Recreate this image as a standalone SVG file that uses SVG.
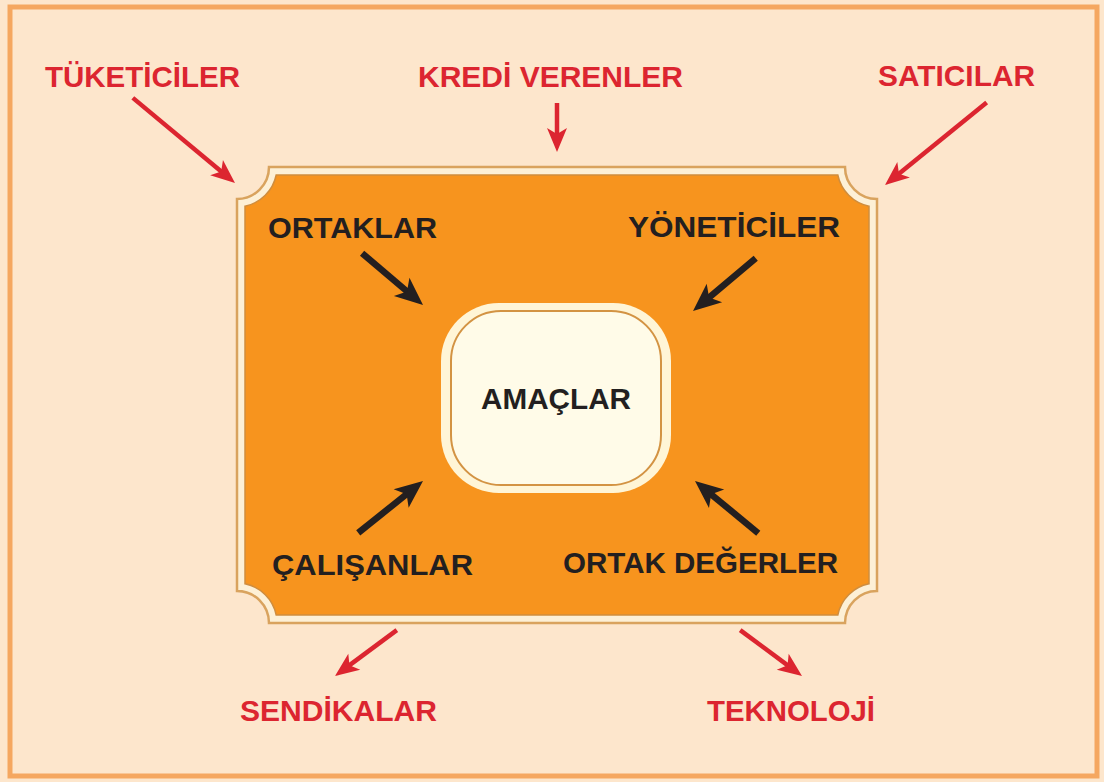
<svg xmlns="http://www.w3.org/2000/svg" width="1104" height="782" viewBox="0 0 1104 782">
<style>
.lbl{font-family:"Liberation Sans",Arial,sans-serif;font-weight:bold;font-size:30px}
.red{fill:#dc2530}
.blk{fill:#231f20}
.ra line{stroke:#dc2530;stroke-width:4.5}
.ra path{fill:#dc2530}
.ba line{stroke:#231f20;stroke-width:6.5}
.ba path{fill:#231f20}
</style>
<rect x="0" y="0" width="1104" height="782" fill="#fde6cc"/>
<rect x="10" y="7" width="1087" height="769" fill="#fde6cc" stroke="#f5a760" stroke-width="5"/>
<g id="frame">
<path d="M269,167 H845 A32 32 0 0 0 877,199 V591 A32 32 0 0 0 845,623 H269 A32 32 0 0 0 237,591 V199 A32 32 0 0 0 269,167 Z" fill="#fdf0d6" stroke="#d9a35e" stroke-width="2.5"/>
<path d="M276.2,175 H837.8 A40 40 0 0 0 869,206.2 V583.8 A40 40 0 0 0 837.8,615 H276.2 A40 40 0 0 0 245,583.8 V206.2 A40 40 0 0 0 276.2,175 Z" fill="#f7941e" stroke="#cf8d3e" stroke-width="1.5"/>
</g>
<g id="amaclar">
<rect x="441" y="303" width="230" height="190" rx="58" fill="#fff5d6"/>
<rect x="451" y="311" width="210" height="174" rx="50" fill="#fffbe8" stroke="#d39343" stroke-width="2"/>
<text class="lbl blk" x="556" y="409" text-anchor="middle" textLength="150" lengthAdjust="spacingAndGlyphs">AMAÇLAR</text>
</g>
<g id="tuketiciler"><text class="lbl red" x="45" y="87" textLength="195" lengthAdjust="spacingAndGlyphs">TÜKETİCİLER</text></g>
<g id="kredi-verenler"><text class="lbl red" x="418" y="87" textLength="265" lengthAdjust="spacingAndGlyphs">KREDİ VERENLER</text></g>
<g id="saticilar"><text class="lbl red" x="878" y="86" textLength="157" lengthAdjust="spacingAndGlyphs">SATICILAR</text></g>
<g id="sendikalar"><text class="lbl red" x="240" y="721" textLength="197" lengthAdjust="spacingAndGlyphs">SENDİKALAR</text></g>
<g id="teknoloji"><text class="lbl red" x="707" y="721" textLength="168" lengthAdjust="spacingAndGlyphs">TEKNOLOJİ</text></g>
<g id="ortaklar"><text class="lbl blk" x="268" y="238" textLength="169" lengthAdjust="spacingAndGlyphs">ORTAKLAR</text></g>
<g id="yoneticiler"><text class="lbl blk" x="628" y="237" textLength="212" lengthAdjust="spacingAndGlyphs">YÖNETİCİLER</text></g>
<g id="calisanlar"><text class="lbl blk" x="272" y="575" textLength="201" lengthAdjust="spacingAndGlyphs">ÇALIŞANLAR</text></g>
<g id="ortak-degerler"><text class="lbl blk" x="563" y="573" textLength="275" lengthAdjust="spacingAndGlyphs">ORTAK DEĞERLER</text></g>
<g id="connectors">
<g class="ra" transform="translate(235,183) rotate(39.8)"><line x1="-133" y1="0" x2="-14" y2="0"/><path d="M0,0 L-24,-10 L-18,0 L-24,10 Z"/></g>
<g class="ra" transform="translate(557,152) rotate(90)"><line x1="-49" y1="0" x2="-14" y2="0"/><path d="M0,0 L-24,-10 L-18,0 L-24,10 Z"/></g>
<g class="ra" transform="translate(885,185) rotate(140.9)"><line x1="-131" y1="0" x2="-14" y2="0"/><path d="M0,0 L-24,-10 L-18,0 L-24,10 Z"/></g>
<g class="ra" transform="translate(335,676) rotate(143.4)"><line x1="-77" y1="0" x2="-14" y2="0"/><path d="M0,0 L-24,-10 L-18,0 L-24,10 Z"/></g>
<g class="ra" transform="translate(802,676) rotate(36.6)"><line x1="-77" y1="0" x2="-14" y2="0"/><path d="M0,0 L-24,-10 L-18,0 L-24,10 Z"/></g>
<g class="ba" transform="translate(423,305) rotate(40.4)"><line x1="-80" y1="0" x2="-16" y2="0"/><path d="M0,0 L-28,-12 L-21,0 L-28,12 Z"/></g>
<g class="ba" transform="translate(693,311) rotate(139.9)"><line x1="-82" y1="0" x2="-16" y2="0"/><path d="M0,0 L-28,-12 L-21,0 L-28,12 Z"/></g>
<g class="ba" transform="translate(423,481) rotate(-38.7)"><line x1="-83" y1="0" x2="-16" y2="0"/><path d="M0,0 L-28,-12 L-21,0 L-28,12 Z"/></g>
<g class="ba" transform="translate(695,481) rotate(-140.5)"><line x1="-82" y1="0" x2="-16" y2="0"/><path d="M0,0 L-28,-12 L-21,0 L-28,12 Z"/></g>
</g>
</svg>
